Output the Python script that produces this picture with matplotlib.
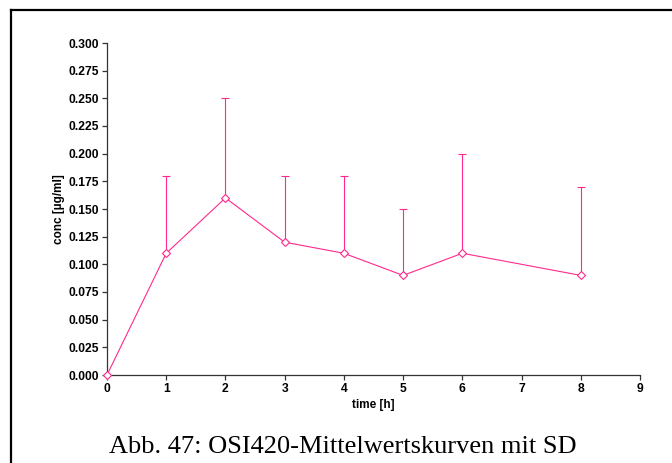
"""
OSI420 - Mittelwertskurve mit SD (nur obere Fehlerbalken).
"""

import matplotlib
matplotlib.use('Agg')
import matplotlib.pyplot as plt
from matplotlib.lines import Line2D

# Daten
zeit = [0, 1, 2, 3, 4, 5, 6, 8]
konz_mittel = [0.0, 0.11, 0.16, 0.12, 0.11, 0.09, 0.11, 0.09]
konz_sd = [0.0, 0.07, 0.09, 0.06, 0.07, 0.06, 0.09, 0.08]
x_ticks = [0, 1, 2, 3, 4, 5, 6, 7, 8, 9]
y_ticks = [0.000, 0.025, 0.050, 0.075, 0.100, 0.125, 0.150, 0.175,
           0.200, 0.225, 0.250, 0.275, 0.300]
caption = 'Abb. 47: OSI420-Mittelwertskurven mit SD'

farbe = '#ff2a8c'

plt.rcParams['font.family'] = ['Liberation Sans', 'DejaVu Sans']

fig = plt.figure(figsize=(6.72, 4.63), dpi=100)
ax = fig.add_axes([107 / 672, 1 - 375 / 463, 533 / 672, 332 / 463])

# nur obere SD
untere = [0] * len(konz_sd)
ax.errorbar(zeit, konz_mittel, yerr=[untere, konz_sd], color=farbe,
            linewidth=0.8, elinewidth=0.8, capsize=2.9, capthick=1.2,
            marker='D', markersize=3.8, markerfacecolor='white',
            markeredgecolor=farbe, markeredgewidth=0.8, clip_on=False, zorder=3)

ax.set_xlim(0, 9)
ax.set_ylim(0, 0.3)
ax.set_xticks(x_ticks)
ax.set_yticks(y_ticks)
ax.set_xticklabels([str(t) for t in x_ticks], fontweight='bold', fontsize=8.7)
ax.set_yticklabels([f'{t:.3f}' for t in y_ticks], fontweight='bold', fontsize=8.7)

for s in ['top', 'right']:
    ax.spines[s].set_visible(False)
for s in ['left', 'bottom']:
    ax.spines[s].set_color('#333333')
    ax.spines[s].set_linewidth(0.9)
ax.tick_params(direction='out', length=3.5, width=0.9, color='#333333', pad=2)

ax.set_xlabel('time [h]', fontweight='bold', fontsize=8.5, labelpad=3)
ax.set_ylabel('conc [µg/ml]', fontweight='bold', fontsize=8.5, labelpad=3)

# Bildunterschrift
fig.text(343 / 672, 1 - 453 / 463, caption, family='Liberation Serif',
         fontsize=19, ha='center', va='baseline')

# Rahmen (links und oben)
fig.add_artist(Line2D([11 / 672, 11 / 672], [0, 1 - 9.5 / 463],
                      transform=fig.transFigure, color='black', linewidth=1.6))
fig.add_artist(Line2D([11 / 672, 1], [1 - 9.5 / 463, 1 - 9.5 / 463],
                      transform=fig.transFigure, color='black', linewidth=1.6))

fig.savefig('out.png', dpi=100)
plt.close(fig)
